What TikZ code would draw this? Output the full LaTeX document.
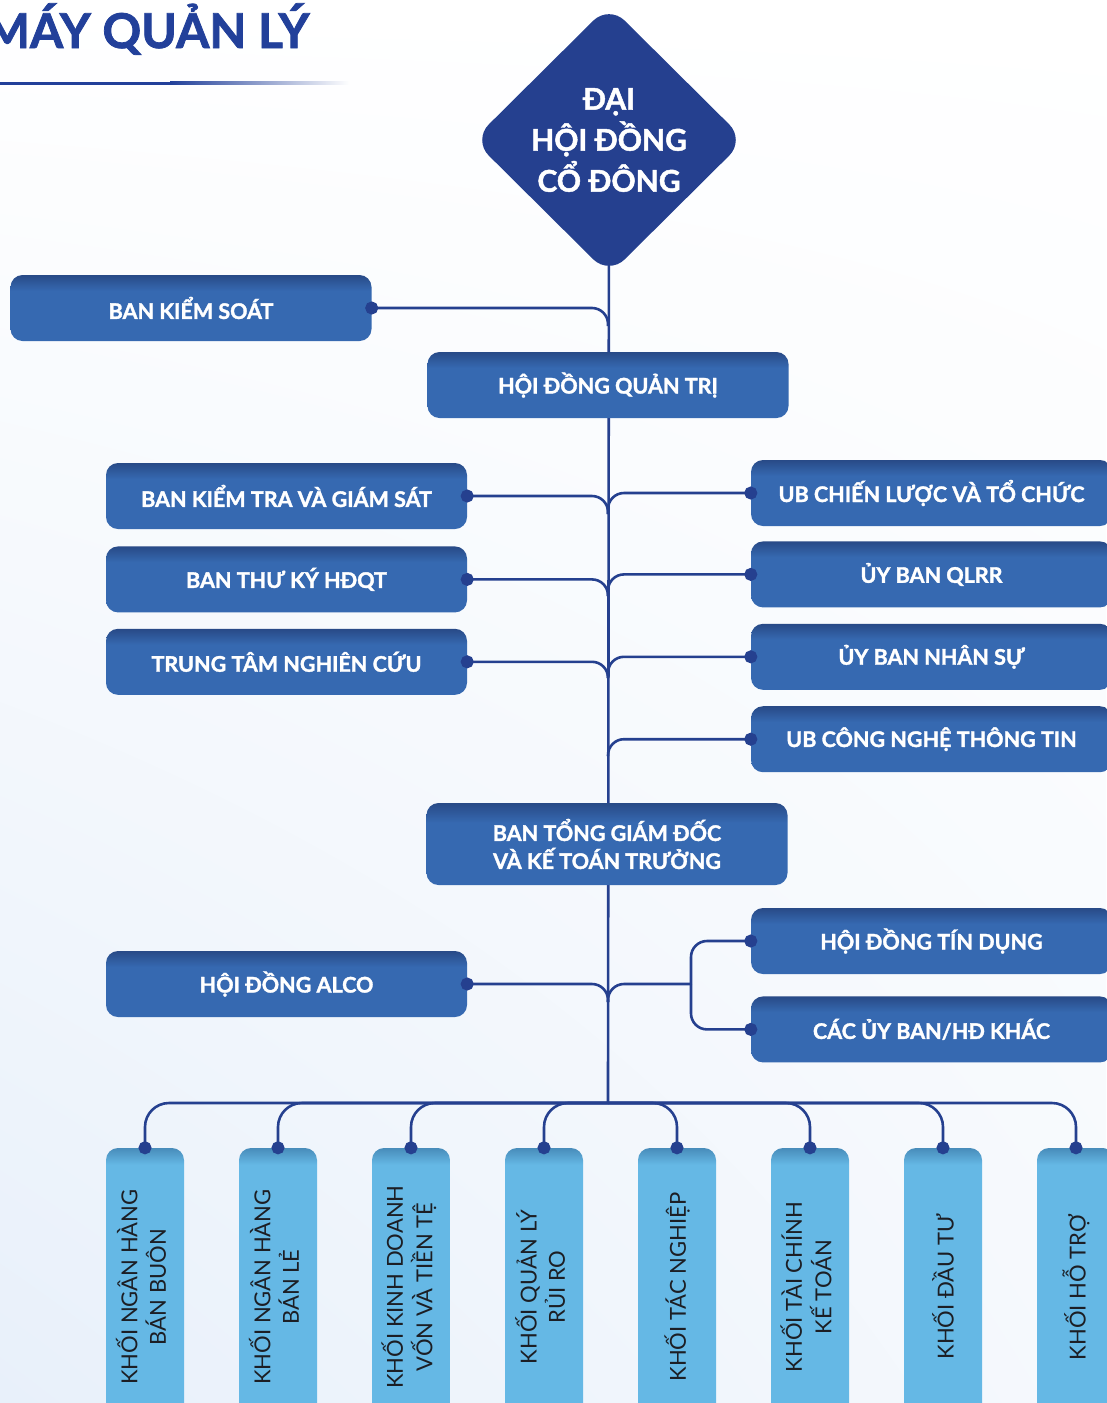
\documentclass[tikz,border=0pt]{standalone}
\usepackage{fontspec}
\setmainfont{Lato}[BoldFeatures={FakeBold=1.6}]
\usetikzlibrary{positioning,shapes.geometric,arrows.meta,shadings}

\definecolor{navy}{RGB}{37,64,143}
\definecolor{titleblue}{RGB}{34,64,154}
\definecolor{boxblue}{RGB}{54,105,177}
\definecolor{boxtop}{RGB}{40,74,135}
\definecolor{khoiblue}{RGB}{101,184,229}
\definecolor{khoitop}{RGB}{72,140,186}
\definecolor{bgblue}{RGB}{232,240,250}
\definecolor{khoitext}{RGB}{28,30,36}

\pgfdeclareverticalshading{boxshade}{100bp}{color(0bp)=(boxblue); color(63bp)=(boxblue); color(75bp)=(boxtop); color(100bp)=(boxtop)}
\pgfdeclareverticalshading{khoishade}{100bp}{color(0bp)=(khoiblue); color(72bp)=(khoiblue); color(75bp)=(khoitop); color(100bp)=(khoitop)}

\pgfdeclarelayer{bg}
\pgfdeclarelayer{lines}
\pgfsetlayers{bg,lines,main}

\begin{document}
\begin{tikzpicture}[x=1pt, y=-1pt,
  dhcd/.style={diamond, rounded corners=22pt, fill=navy, inner sep=-8pt, minimum width=272pt, minimum height=270pt, text=white, align=center, font=\fontsize{30}{41}\selectfont\bfseries},
  ban/.style={rectangle, rounded corners=12pt, shade, shading=boxshade, minimum width=361pt, minimum height=66pt, text=white, align=center, font=\fontsize{21.5}{28}\selectfont\bfseries},
  khoi/.style={rectangle, rounded corners=12pt, shade, shading=khoishade, minimum width=78pt, minimum height=278pt, inner sep=0pt, text=khoitext, font=\fontsize{22}{27}\selectfont},
  conn/.style={draw=navy, line width=2.6pt, rounded corners=16pt},
  dot/.style={-{Circle[length=13pt]}, shorten >=-6.5pt}]
  \useasboundingbox (0,0) rectangle (1106,1403);
  \begin{pgfonlayer}{bg}
    \shade[upper left=white, upper right=white, lower left=bgblue, lower right=bgblue!40!white] (0,0) rectangle (1106,1403);
  \end{pgfonlayer}

  % title
  \node[anchor=base east, text=titleblue, font=\fontsize{48}{48}\selectfont\bfseries] (title) at (313,48) {MÁY QUẢN LÝ};
  \fill[titleblue] (0,81.5) rectangle (170,84.5);
  \shade[left color=titleblue, right color=white] (170,81.5) rectangle (350,84.5);

  % top
  \node[dhcd] (dhcd) at (609,140) {ĐẠI\\HỘI ĐỒNG\\CỔ ĐÔNG};
  \node[ban] (bks) at (191,308) {BAN KIỂM SOÁT};
  \node[ban] (hdqt) at (608,385) {HỘI ĐỒNG QUẢN TRỊ};

  % ban left
  \node[ban] (bkt) at (286.5,496) {BAN KIỂM TRA VÀ GIÁM SÁT};
  \node[ban] (btk) [below=17pt of bkt] {BAN THƯ KÝ HĐQT};
  \node[ban] (ttnc) [below=16pt of btk] {TRUNG TÂM NGHIÊN CỨU};

  % uy ban right
  \node[ban] (ubcl) at (931.5,493) {UB CHIẾN LƯỢC VÀ TỔ CHỨC};
  \node[ban] (qlrr) [below=15pt of ubcl] {ỦY BAN QLRR};
  \node[ban] (nsu) [below=16pt of qlrr] {ỦY BAN NHÂN SỰ};
  \node[ban] (cntt) [below=16pt of nsu] {UB CÔNG NGHỆ THÔNG TIN};

  \node[ban, minimum height=82pt] (btgd) at (607,844) {BAN TỔNG GIÁM ĐỐC\\VÀ KẾ TOÁN TRƯỞNG};

  \node[ban] (alco) at (286.5,984) {HỘI ĐỒNG ALCO};
  \node[ban] (tdung) at (931.5,941) {HỘI ĐỒNG TÍN DỤNG};
  \node[ban] (khac) [below=22pt of tdung] {CÁC ỦY BAN/HĐ KHÁC};

  % khoi
  \node[khoi] (k1) at (145,1287) {\rotatebox{90}{\begin{tabular}{@{}c@{}}KHỐI NGÂN HÀNG\\BÁN BUÔN\end{tabular}}};
  \node[khoi] (k2) [right=54.6pt of k1] {\rotatebox{90}{\begin{tabular}{@{}c@{}}KHỐI NGÂN HÀNG\\BÁN LẺ\end{tabular}}};
  \node[khoi] (k3) [right=54.6pt of k2] {\rotatebox{90}{\begin{tabular}{@{}c@{}}KHỐI KINH DOANH\\VỐN VÀ TIỀN TỆ\end{tabular}}};
  \node[khoi] (k4) [right=54.6pt of k3] {\rotatebox{90}{\begin{tabular}{@{}c@{}}KHỐI QUẢN LÝ\\RỦI RO\end{tabular}}};
  \node[khoi] (k5) [right=54.6pt of k4] {\rotatebox{90}{KHỐI TÁC NGHIỆP}};
  \node[khoi] (k6) [right=54.6pt of k5] {\rotatebox{90}{\begin{tabular}{@{}c@{}}KHỐI TÀI CHÍNH\\KẾ TOÁN\end{tabular}}};
  \node[khoi] (k7) [right=54.6pt of k6] {\rotatebox{90}{KHỐI ĐẦU TƯ}};
  \node[khoi] (k8) [right=54.6pt of k7] {\rotatebox{90}{KHỐI HỖ TRỢ}};

  % trunk joins
  \coordinate (j0) at (608,326);
  \coordinate (j1) at (608,514);
  \coordinate (j2) at (608,596);
  \coordinate (j3) at (608,678);
  \coordinate (j4) at (608,756);
  \coordinate (j5) at (608,1002);
  \coordinate (brk) at (691,984);
  \coordinate (bus) at (608,1103);

  \begin{pgfonlayer}{lines}
    \draw[conn] (dhcd.center) -- (bus);
  \end{pgfonlayer}
  \draw[conn, dot] (j0) |- (bks.east);
  \draw[conn, dot] (j1) |- (bkt.east);
  \draw[conn, dot] (j1) |- (ubcl.west);
  \draw[conn, dot] (j2) |- (btk.east);
  \draw[conn, dot] (j2) |- (qlrr.west);
  \draw[conn, dot] (j3) |- (ttnc.east);
  \draw[conn, dot] (j3) |- (nsu.west);
  \draw[conn, dot] (j4) |- (cntt.west);
  \draw[conn, dot] (j5) |- (alco.east);
  \draw[conn] (j5) |- (brk);
  \draw[conn, dot] (brk) |- (tdung.west);
  \draw[conn, dot] (brk) |- (khac.west);
  \draw[conn, dot, rounded corners=24pt] (bus) -| (k1.north);
  \draw[conn, dot, rounded corners=24pt] (bus) -| (k2.north);
  \draw[conn, dot, rounded corners=24pt] (bus) -| (k3.north);
  \draw[conn, dot, rounded corners=24pt] (bus) -| (k4.north);
  \draw[conn, dot, rounded corners=24pt] (bus) -| (k5.north);
  \draw[conn, dot, rounded corners=24pt] (bus) -| (k6.north);
  \draw[conn, dot, rounded corners=24pt] (bus) -| (k7.north);
  \draw[conn, dot, rounded corners=24pt] (bus) -| (k8.north);
\end{tikzpicture}
\end{document}
